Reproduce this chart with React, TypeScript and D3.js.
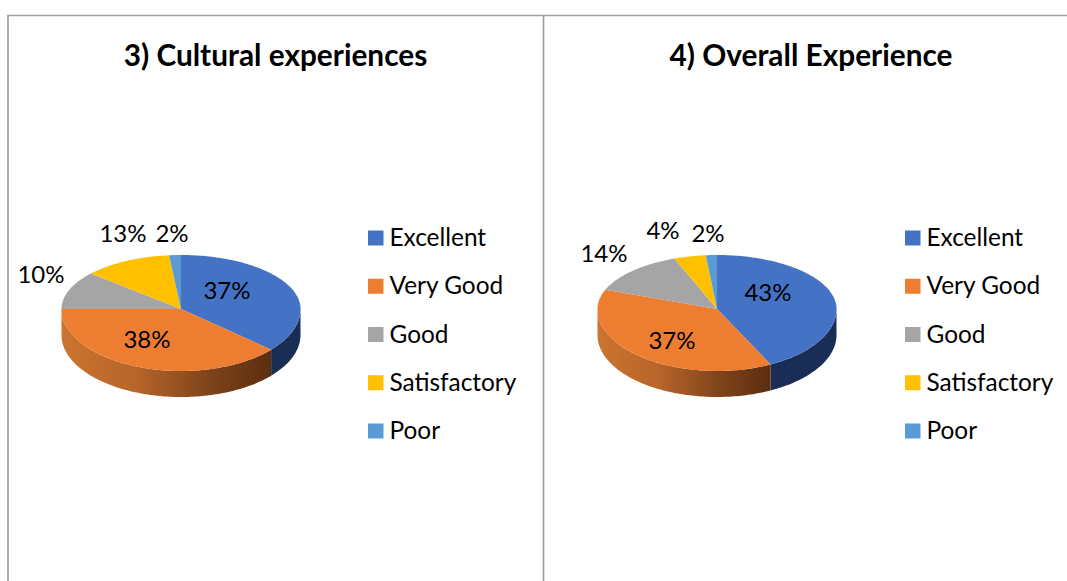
import React from "react";
import * as d3 from "d3";

const categories = ["Excellent", "Very Good", "Good", "Satisfactory", "Poor"];
const titles = ["3) Cultural experiences", "4) Overall Experience"];
// slice sizes as drawn in the picture (percent)
const cultural = [36.4, 38.6, 11.4, 12, 1.6];
const overall = [42.6, 38.2, 13.4, 4.3, 1.5];
// data labels as printed
const culturalLabels = ["37%", "38%", "10%", "13%", "2%"];
const overallLabels = ["43%", "37%", "14%", "4%", "2%"];

const colors = ["#4472C4", "#ED7D31", "#A5A5A5", "#FFC000", "#5B9BD5"];

const RX = 119.5, RY_TOP = 54, RY_BOTTOM = 62, DEPTH = 26, CY = 309;
const FONT = "Lato, Carlito, Calibri, sans-serif";

type Panel = {
  id: string; title: string; titleX: number; cx: number; legendX: number;
  values: number[]; labels: string[]; labelAt: [number, number][];
};
const panels: Panel[] = [
  { id: "a", title: titles[0], titleX: 275.5, cx: 181, legendX: 368, values: cultural, labels: culturalLabels,
    labelAt: [[46, -18], [-34, 31], [-140, -34], [-58, -75], [-9, -75]] },
  { id: "b", title: titles[1], titleX: 811, cx: 717, legendX: 905, values: overall, labels: overallLabels,
    labelAt: [[51, -16], [-45, 32], [-113, -55], [-54, -78], [-9, -75]] },
];

const rowY = d3.scalePoint<string>().domain(categories).range([238, 431]);

function PieChart({ p }: { p: Panel }) {
  const arcs = d3.pie<number>().sort(null).value((d) => d)(p.values);
  const pt = (a: number, dy = 0): [number, number] => {
    const ry = Math.cos(a) >= 0 ? RY_TOP : RY_BOTTOM;
    return [p.cx + RX * Math.sin(a), CY + dy - ry * Math.cos(a)];
  };
  const sample = (a0: number, a1: number, dy = 0) => {
    const n = Math.max(2, Math.ceil(Math.abs(a1 - a0) / 0.02));
    return d3.range(n + 1).map((i) => pt(a0 + ((a1 - a0) * i) / n, dy));
  };
  const line = d3.line();
  const lo = Math.PI / 2, hi = (3 * Math.PI) / 2;

  return (
    <g>
      <defs>
        <linearGradient id={`side-${p.id}`} gradientUnits="userSpaceOnUse"
          x1={p.cx - RX} x2={pt(arcs[1].startAngle)[0]} y1={0} y2={0}>
          <stop offset="0" stopColor="#CC7430" />
          <stop offset="0.35" stopColor="#B8652A" />
          <stop offset="0.7" stopColor="#7F441A" />
          <stop offset="1" stopColor="#5C2E10" />
        </linearGradient>
      </defs>
      {arcs.map((a, i) => {
        const s = Math.max(a.startAngle, lo), e = Math.min(a.endAngle, hi);
        if (e <= s) return null;
        const pts = [...sample(s, e), ...sample(e, s, DEPTH)];
        return <path key={i} d={line(pts) + "Z"} fill={i === 0 ? "#1A2D54" : i === 1 ? `url(#side-${p.id})` : colors[i]} />;
      })}
      {arcs.map((a, i) => (
        <path key={i} d={line([[p.cx, CY], ...sample(a.startAngle, a.endAngle)]) + "Z"} fill={colors[i]} />
      ))}
      <text x={p.titleX} y={66} textAnchor="middle" fontFamily={FONT} fontWeight={700} fontSize={29.8} fill="#000">{p.title}</text>
      {p.labels.map((t, i) => (
        <text key={i} x={p.cx + p.labelAt[i][0]} y={CY + p.labelAt[i][1] + 8} textAnchor="middle"
          fontFamily={FONT} fontSize={24} fill="#000">{t}</text>
      ))}
      {categories.map((c, i) => (
        <g key={c}>
          <rect x={p.legendX} y={rowY(c)! - 7.5} width={15.5} height={15} fill={colors[i]} />
          <text x={p.legendX + 21.5} y={rowY(c)! + 8} fontFamily={FONT} fontSize={24.4} fill="#000">{c}</text>
        </g>
      ))}
    </g>
  );
}

export default function App() {
  return (
    <svg width={1067} height={581} style={{ position: "absolute", left: 0, top: 0, display: "block", background: "#fff" }}>
      <path d="M8 581V15.5H1067M543.5 15.5V581" fill="none" stroke="#A0A0A0" strokeWidth={1.7} />
      {panels.map((p) => <PieChart key={p.id} p={p} />)}
    </svg>
  );
}
